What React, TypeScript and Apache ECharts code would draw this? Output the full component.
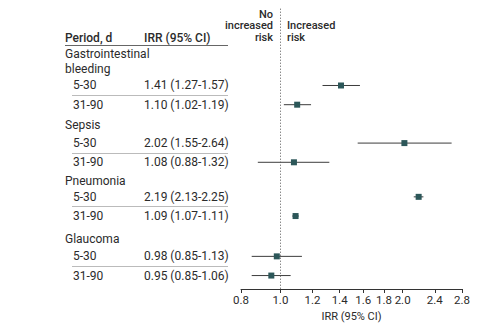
import React, { useEffect, useRef } from "react";
import * as echarts from "echarts";

const groups = ["Gastrointestinal\nbleeding", "Sepsis", "Pneumonia", "Glaucoma"];
const rowGroup = [0, 0, 1, 1, 2, 2, 3, 3];
const rowPeriod = ["5-30", "31-90", "5-30", "31-90", "5-30", "31-90", "5-30", "31-90"];
const irr = [1.41, 1.1, 2.02, 1.08, 2.19, 1.09, 0.98, 0.95];
const lower = [1.27, 1.02, 1.55, 0.88, 2.13, 1.07, 0.85, 0.85];
const upper = [1.57, 1.19, 2.64, 1.32, 2.25, 1.11, 1.13, 1.06];
const tickValues = [0.8, 1.0, 1.2, 1.4, 1.6, 1.8, 2.0, 2.4, 2.8];

// layout slots (vertical positions in row units)
const rowSlot = [0, 1, 3, 4, 5.8, 6.8, 8.9, 9.9];
const groupSlot = [-1.25, 2.06, 4.96, 7.99];

const FONT = "Roboto";
const TEXT = "#2b2b2b";

export default function App() {
  const ref = useRef<HTMLDivElement>(null);
  useEffect(() => {
    if (!ref.current) return;
    const chart = echarts.init(ref.current, undefined, { renderer: "svg" });
    const ln = Math.log;
    chart.setOption({
      animation: false,
      textStyle: { fontFamily: FONT },
      grid: { left: 241, right: 19, top: 8.7, bottom: 35, containLabel: false, outerBoundsMode: "none" },
      xAxis: {
        type: "value",
        min: ln(0.8),
        max: ln(2.8),
        splitLine: { show: false },
        axisLine: { onZero: false, lineStyle: { color: "#333", width: 1 } },
        axisTick: {
          customValues: tickValues.map(ln),
          length: 4,
          lineStyle: { color: "#333" },
        },
        axisLabel: {
          customValues: tickValues.map(ln),
          formatter: (v: number) => Math.exp(v).toFixed(1),
          color: TEXT,
          fontSize: 11.5,
          fontFamily: FONT,
          margin: 5,
        },
        name: "IRR (95% CI)",
        nameLocation: "middle",
        nameGap: 21,
        nameTextStyle: { color: TEXT, fontSize: 11, fontFamily: FONT },
      },
      yAxis: { type: "value", inverse: true, min: -4, max: 10.6, show: false },
      series: [
        {
          type: "custom",
          data: rowSlot.map((s, i) => [ln(lower[i]), ln(upper[i]), s]),
          renderItem: (params: any, api: any) => {
            const y = api.value(2);
            const p1 = api.coord([api.value(0), y]);
            const p2 = api.coord([api.value(1), y]);
            return {
              type: "line",
              shape: { x1: p1[0], y1: p1[1], x2: p2[0], y2: p2[1] },
              style: { stroke: "#3c3c3c", lineWidth: 1 },
            };
          },
          z: 2,
        },
        {
          type: "scatter",
          data: rowSlot.map((s, i) => [ln(irr[i]), s]),
          symbol: "rect",
          symbolSize: 6,
          itemStyle: { color: "#2c5759", opacity: 1 },
          z: 3,
          markLine: {
            silent: true,
            symbol: ["none", "none"],
            label: { show: false },
            lineStyle: { type: [1, 2], color: "#555", width: 1 },
            data: [{ xAxis: 0 }],
          },
        },
      ],
    });

    const py = (slot: number) => chart.convertToPixel({ gridIndex: 0 }, [0, slot])[1] as number;
    const t = (x: number, y: number, text: string, opts: any = {}) => ({
      type: "text",
      x,
      y,
      style: {
        text,
        fill: TEXT,
        font: `${opts.weight || "normal"} ${opts.size || 12}px ${FONT}`,
        textAlign: opts.align || "left",
        textVerticalAlign: "middle",
        lineHeight: opts.lh || 15,
      },
    });
    const graphics: any[] = [];
    graphics.push(t(65, 38, "Period, d", { weight: 500 }));
    graphics.push(t(144, 38, "IRR (95% CI)", { weight: 500 }));
    graphics.push({ type: "line", shape: { x1: 65, y1: 45.5, x2: 228, y2: 45.5 }, style: { stroke: "#666", lineWidth: 1 } });
    graphics.push(t(273, 25.5, "No\nincreased\nrisk", { weight: 500, align: "right", lh: 11.5, size: 11 }));
    graphics.push(t(287, 31.5, "Increased\nrisk", { weight: 500, lh: 11.5, size: 11 }));
    groups.forEach((g, gi) => {
      graphics.push(t(65, py(groupSlot[gi]), g));
    });
    rowSlot.forEach((s, i) => {
      const y = py(s);
      graphics.push(t(73, y, rowPeriod[i]));
      graphics.push(
        t(144, y, `${irr[i].toFixed(2)} (${lower[i].toFixed(2)}-${upper[i].toFixed(2)})`)
      );
      if (i > 0 && rowGroup[i] === rowGroup[i - 1]) {
        const ly = Math.round((py(s) + py(rowSlot[i - 1])) / 2) + 0.5;
        graphics.push({ type: "line", shape: { x1: 72, y1: ly, x2: 228, y2: ly }, style: { stroke: "#bbb", lineWidth: 1 } });
      }
    });
    chart.setOption({ graphic: graphics });
    return () => chart.dispose();
  }, []);
  return <div ref={ref} style={{ width: 481, height: 324, position: "absolute", left: 0, top: 0 }} />;
}
